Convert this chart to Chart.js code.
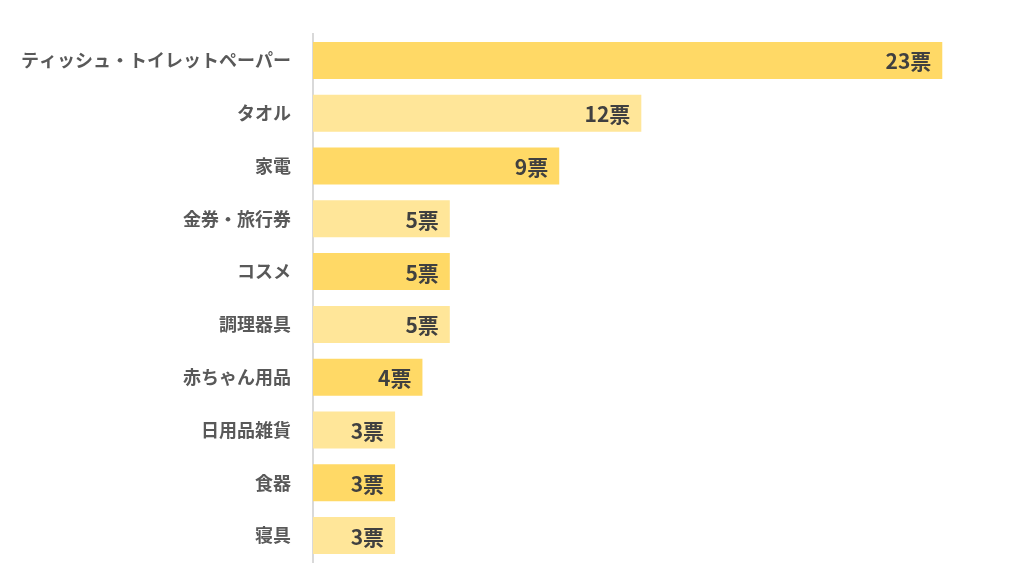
<!DOCTYPE html>
<html lang="ja">
<head>
<meta charset="utf-8">
<script src="https://cdn.jsdelivr.net/npm/chart.js@4/dist/chart.umd.min.js"></script>
<style>
  html, body { margin: 0; padding: 0; background: #fff; }
  #wrap { width: 1024px; height: 585px; position: relative; }
</style>
</head>
<body>
<div id="wrap"><canvas id="grafico"></canvas></div>
<script>
// Dados do gráfico
const categorias = ['ティッシュ・トイレットペーパー', 'タオル', '家電', '金券・旅行券', 'コスメ', '調理器具', '赤ちゃん用品', '日用品雑貨', '食器', '寝具'];
const votos = [23, 12, 9, 5, 5, 5, 4, 3, 3, 3];
const sufixo = '票';
const coresBarras = ['#FFD966', '#FFE699'];

const fonteBase = '"Noto Sans CJK JP", "Noto Sans", sans-serif';

// Plugin simples para escrever o valor dentro da ponta da barra
const rotulosBarras = {
    id: 'rotulosBarras',
    afterDatasetsDraw(chart) {
        const ctx = chart.ctx;
        const meta = chart.getDatasetMeta(0);
        ctx.save();
        ctx.font = 'bold 21px ' + fonteBase;
        ctx.fillStyle = '#404040';
        ctx.textAlign = 'right';
        ctx.textBaseline = 'middle';
        meta.data.forEach((barra, i) => {
            ctx.fillText(votos[i] + sufixo, barra.x - 11, barra.y + 1);
        });
        ctx.restore();
    }
};

const ctx = document.getElementById('grafico').getContext('2d');
new Chart(ctx, {
    type: 'bar',
    data: {
        labels: categorias,
        datasets: [{
            data: votos,
            backgroundColor: categorias.map((c, i) => coresBarras[i % 2]),
            borderWidth: 0,
            barPercentage: 0.7,
            categoryPercentage: 1.0
        }]
    },
    options: {
        indexAxis: 'y',
        responsive: true,
        maintainAspectRatio: false,
        animation: false,
        layout: { padding: { top: 34, bottom: 23, left: 0, right: 27 } },
        scales: {
            x: {
                display: false,
                min: 0,
                max: 25
            },
            y: {
                afterFit(scale) {
                    scale.width = 313;
                    scale.paddingTop = 0;
                    scale.paddingBottom = 0;
                },
                grid: { display: false, drawTicks: false },
                border: { display: true, color: '#D9D9D9', width: 2 },
                ticks: {
                    padding: 22,
                    color: '#595959',
                    font: { family: fonteBase, size: 18, weight: 'bold' }
                }
            }
        },
        plugins: {
            legend: { display: false },
            tooltip: { enabled: false }
        }
    },
    plugins: [rotulosBarras]
});
</script>
</body>
</html>
